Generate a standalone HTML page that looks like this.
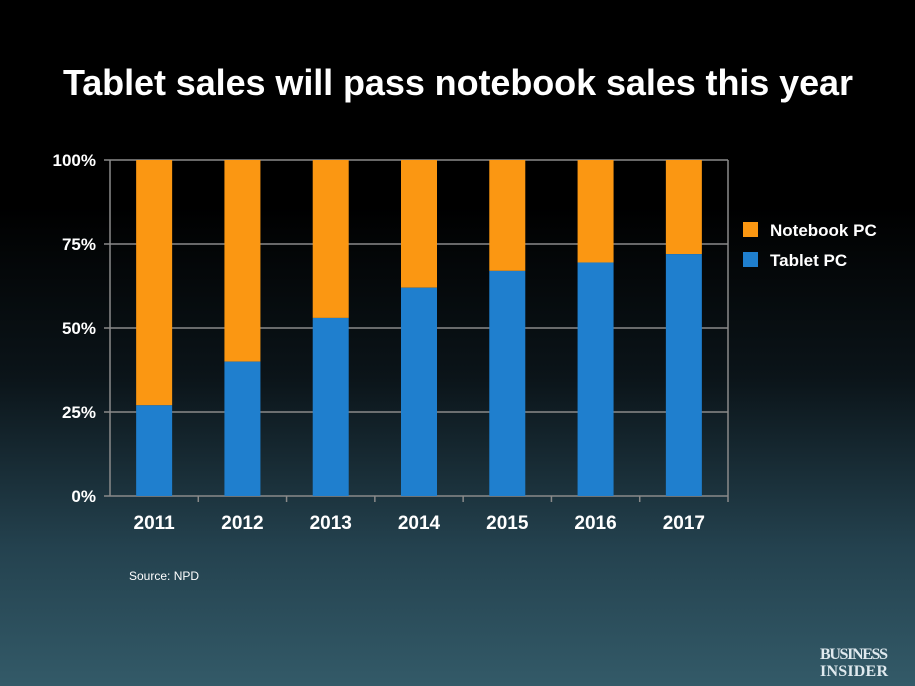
<!DOCTYPE html>
<html><head><meta charset="utf-8"><style>
body{margin:0;width:915px;height:686px;overflow:hidden;font-family:"Liberation Sans",sans-serif;}
#bg{position:absolute;left:0;top:0;width:915px;height:686px;background:linear-gradient(to bottom,#000 0%,#000 30%,#0b1419 55%,#24424f 80%,#335a68 100%);}
</style></head><body>
<div id="bg"></div>
<svg width="915" height="686" style="position:absolute;left:0;top:0">
<text x="458" y="95" text-anchor="middle" fill="#fff" font-size="36" font-weight="bold" textLength="790">Tablet sales will pass notebook sales this year</text>
<g id="grid"></g><g id="bars"></g><g id="axes"></g>
<rect x="743" y="222" width="15" height="15" fill="#fb9712"/>
<text x="770" y="236" fill="#fff" font-size="17" font-weight="bold">Notebook PC</text>
<rect x="743" y="252" width="15" height="15" fill="#1f7fce"/>
<text x="770" y="266" fill="#fff" font-size="17" font-weight="bold">Tablet PC</text>
<text x="129" y="580" fill="#fff" font-size="12">Source: NPD</text>
<text x="854" y="659" text-anchor="middle" fill="#dfe9ee" font-family="Liberation Serif,serif" font-size="16" font-weight="bold" textLength="68">BUSINESS</text>
<text x="854" y="676" text-anchor="middle" fill="#dfe9ee" font-family="Liberation Serif,serif" font-size="16" font-weight="bold" textLength="68">INSIDER</text>
</svg>
<script>
const years=["2011","2012","2013","2014","2015","2016","2017"];
const tablet=[27,40,53,62,67,69.5,72];
const yTicks=[0,25,50,75,100];
const yTickLabels=["0%","25%","50%","75%","100%"];
const NS="http://www.w3.org/2000/svg";
const x0=110,x1=728,yTop=160,yBot=496;
const step=(x1-x0)/years.length,bw=36;
const y=v=>yBot-(yBot-yTop)*v/100;
const xc=i=>x0+step*(i+0.5);
function mk(t,a,p){const e=document.createElementNS(NS,t);for(const k in a)e.setAttribute(k,a[k]);p.appendChild(e);return e;}
const g=document.getElementById('grid'),b=document.getElementById('bars'),ax=document.getElementById('axes');
yTicks.forEach((v,i)=>{
 const l=mk('line',{x1:x0-6,x2:x1,y1:y(v),y2:y(v),stroke:'#8a8a8a','stroke-width':1.5},g);
 
 
 const t=mk('text',{x:96,y:y(v)+6,'text-anchor':'end',fill:'#fff','font-size':17,'font-weight':'bold'},ax);
 t.textContent=yTickLabels[i];
 
 
});
mk('line',{x1:x0,x2:x0,y1:yTop,y2:yBot,stroke:'#8a8a8a','stroke-width':1.5},ax);
mk('line',{x1:x1,x2:x1,y1:yTop,y2:yBot,stroke:'#8a8a8a','stroke-width':1.5},ax);
years.forEach((yr,i)=>{
 const cx=xc(i);
 const o=mk('rect',{x:cx-bw/2,y:y(100),width:bw,height:y(tablet[i])-y(100),fill:'#fb9712'},b);
 
 
 const r=mk('rect',{x:cx-bw/2,y:y(tablet[i]),width:bw,height:yBot-y(tablet[i]),fill:'#1f7fce'},b);
 
 
 mk('line',{x1:x0+step*(i+1),x2:x0+step*(i+1),y1:yBot,y2:yBot+6,stroke:'#8a8a8a','stroke-width':1.5},ax);
 const t=mk('text',{x:cx,y:529,'text-anchor':'middle',fill:'#fff','font-size':19,'font-weight':'bold'},ax);
 t.textContent=yr;
 
 
});
</script>
</body></html>
